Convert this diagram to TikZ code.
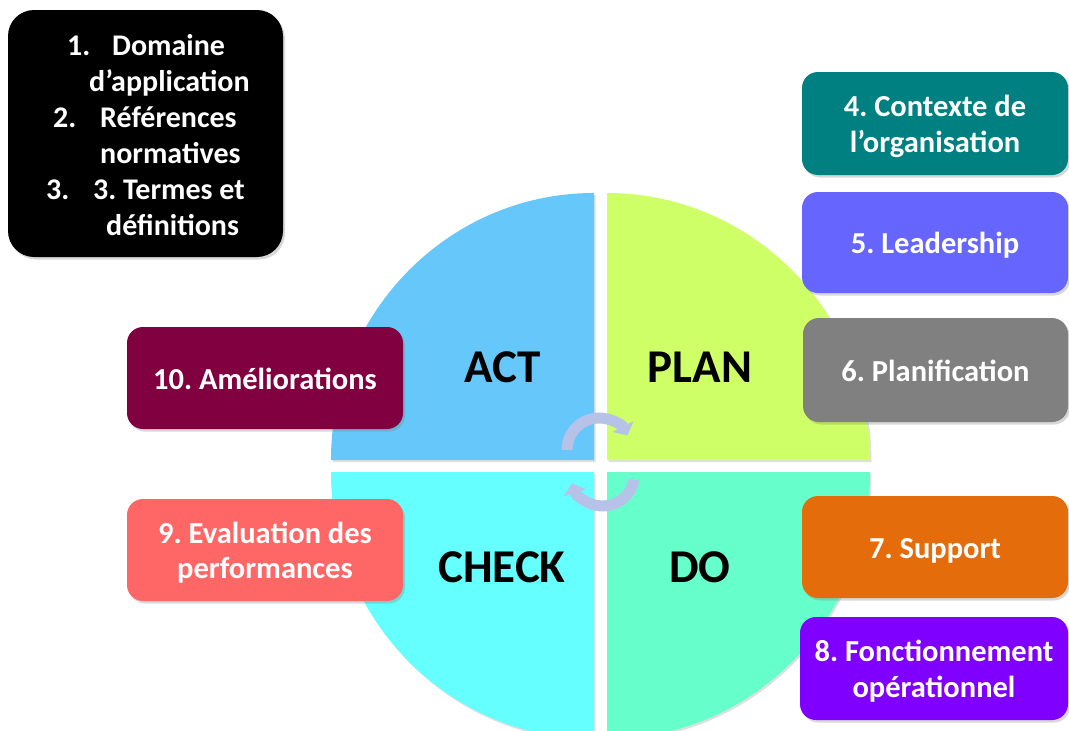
\documentclass[tikz,border=0pt]{standalone}
\usepackage{fontspec}
\setmainfont{Carlito}
\frenchspacing
\usetikzlibrary{arrows.meta,shadows}
\definecolor{cact}{RGB}{102,199,250}
\definecolor{cplan}{RGB}{207,255,102}
\definecolor{ccheck}{RGB}{102,255,255}
\definecolor{cdo}{RGB}{102,255,204}
\definecolor{cfour}{RGB}{0,128,128}
\definecolor{cfive}{RGB}{102,102,255}
\definecolor{csix}{RGB}{128,128,128}
\definecolor{cseven}{RGB}{228,108,10}
\definecolor{ceight}{RGB}{128,0,255}
\definecolor{cnine}{RGB}{255,102,102}
\definecolor{cten}{RGB}{128,0,64}
\definecolor{ccyc}{RGB}{182,194,232}
\begin{document}
\begin{tikzpicture}[x=1pt,y=-1pt,
  quad/.style={drop shadow={shadow xshift=1.5pt,shadow yshift=-2pt,opacity=0.25}},
  box/.style={rounded corners=16pt, text=white, align=center, inner sep=0pt,
    text height=22pt, text depth=0pt,
    font=\fontsize{30.5}{35.5}\selectfont\bfseries,
    drop shadow={shadow xshift=2pt,shadow yshift=-2.5pt,opacity=0.3}},
  twoline/.style={text height=57.5pt},
  big/.style={font=\fontsize{47}{50}\selectfont\bfseries, anchor=base, inner sep=0pt},
  lst/.style={font=\fontsize{30}{35}\selectfont\bfseries, text=white, anchor=base west, inner sep=0pt},
  cyc/.style={draw=ccyc, line width=11pt, -{Triangle[width=23pt,length=10pt]}}
]
\useasboundingbox (0,0) rectangle (1069,731);
\clip (0,0) rectangle (1069,731);
\fill[white] (0,0) rectangle (1069,731);

% quadrants
\fill[cact, quad] (594,460) -- (331,460) arc[start angle=180,end angle=270,x radius=263,y radius=267] -- cycle;
\fill[cplan, quad] (607,460) -- (607,193) arc[start angle=270,end angle=360,x radius=263,y radius=267] -- cycle;
\fill[cdo, quad] (607,472) -- (870,472) arc[start angle=0,end angle=90,x radius=263,y radius=267] -- cycle;
\fill[ccheck, quad] (594,472) -- (594,739) arc[start angle=90,end angle=180,x radius=263,y radius=267] -- cycle;

% quadrant labels
\node[big] (act) at (503,382) {ACT};
\node[big] (plan) at (700,382) {PLAN};
\node[big] (check) at (502,582) {CHECK};
\node[big] (do) at (700,582) {DO};

% cycle arrows
\draw[cyc] (567,450) arc[start angle=180,end angle=333,radius=32];
\draw[cyc] (634,479.5) arc[start angle=10,end angle=163,radius=32];

% top-left black box
\node[box, fill=black, rounded corners=26pt, minimum width=275pt, minimum height=247pt] (blk) at (145.5,133.5) {};
\node[lst] (l1n) at (67,55) {1.};
\node[lst] (l1) at (112,55) {Domaine};
\node[lst] (l1b) at (89,91) {d’application};
\node[lst] (l2n) at (53,127) {2.};
\node[lst] (l2) at (100,127) {Références};
\node[lst] (l2b) at (100,163) {normatives};
\node[lst] (l3n) at (46,199) {3.};
\node[lst] (l3) at (93,199) {3. Termes et};
\node[lst] (l3b) at (106,235) {définitions};

% right boxes
\node[box, twoline, fill=cfour, minimum width=266pt, minimum height=103pt] (b4) at (935,123.5) {4. Contexte de\\l’organisation};
\node[box, fill=cfive, minimum width=266pt, minimum height=101pt] (b5) at (935,242.5) {5. Leadership};
\node[box, fill=csix, minimum width=265pt, minimum height=104pt] (b6) at (935.5,370) {6. Planification};
\node[box, fill=cseven, minimum width=266pt, minimum height=102pt] (b7) at (935,547) {7. Support};
\node[box, twoline, fill=ceight, minimum width=268pt, minimum height=103pt] (b8) at (934,668.5) {8. Fonctionnement\\opérationnel};

% left boxes
\node[box, fill=cten, minimum width=276pt, minimum height=102pt] (b10) at (265,378) {10. Améliorations};
\node[box, twoline, fill=cnine, minimum width=276pt, minimum height=102pt] (b9) at (265,550) {9. Evaluation des\\performances};
\end{tikzpicture}
\end{document}
